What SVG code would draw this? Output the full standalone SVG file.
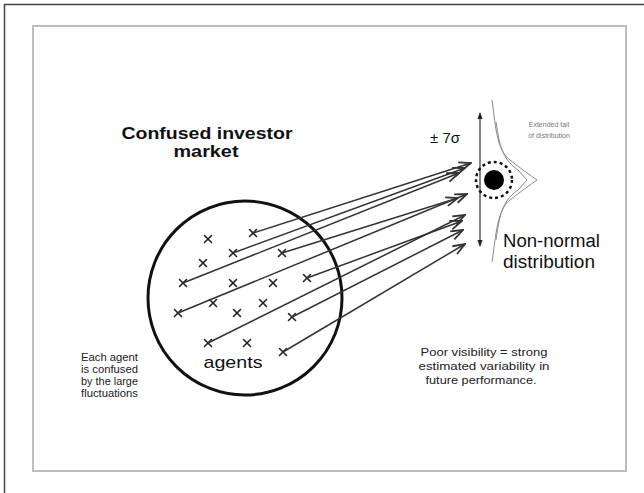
<svg xmlns="http://www.w3.org/2000/svg" width="644" height="493" viewBox="0 0 644 493">
  <defs>
    <style>
      .frame { fill: none; stroke: #444; stroke-width: 1.5; }
      .panel { fill: #fff; stroke: #bdbdbd; stroke-width: 2; }
      .market { fill: none; stroke: #111; stroke-width: 3; }
      .agent { stroke: #222; stroke-width: 1.6; stroke-linecap: round; }
      .flow { stroke: #333; stroke-width: 1.5; fill: none; marker-end: url(#openHead); }
      .span { stroke: #333; stroke-width: 1.2; marker-start: url(#solidHead); marker-end: url(#solidHead); }
      .dist { fill: none; stroke: #8a8a8a; stroke-width: 1; }
      .sans { font-family: "Liberation Sans", Arial, sans-serif; fill: #111; }
      .title { font-size: 17px; font-weight: bold; }
      .big { font-size: 17px; }
      .note { font-size: 10px; fill: #222; }
      .tiny { font-size: 7px; fill: #777; }
    </style>
    <marker id="openHead" viewBox="0 0 14 12" refX="13" refY="6" markerWidth="14" markerHeight="12" markerUnits="userSpaceOnUse" orient="auto">
      <path d="M1,1.5 L13,6 L1,10.5" fill="none" stroke="#333" stroke-width="1.8"/>
    </marker>
    <marker id="solidHead" viewBox="0 0 8 8" refX="7" refY="4" markerWidth="7" markerHeight="7" markerUnits="userSpaceOnUse" orient="auto-start-reverse">
      <path d="M0,1 L8,4 L0,7 Z" fill="#222"/>
    </marker>
    <g id="x">
      <line class="agent" x1="-3.5" y1="-3.5" x2="3.5" y2="3.5"/>
      <line class="agent" x1="-3.5" y1="3.5" x2="3.5" y2="-3.5"/>
    </g>
  </defs>

  <rect width="644" height="493" fill="#fff"/>
  <path class="frame" d="M4.5,493 V4.5 H644"/>
  <rect class="panel" x="33" y="26" width="593" height="445"/>

  <!-- market of agents -->
  <g id="market">
    <circle class="market" cx="245" cy="298" r="97"/>
    <text class="sans title" x="207" y="139" text-anchor="middle" textLength="171" lengthAdjust="spacingAndGlyphs">Confused investor</text>
    <text class="sans title" x="206" y="157" text-anchor="middle" textLength="65" lengthAdjust="spacingAndGlyphs">market</text>
    <text class="sans big" x="233" y="368" text-anchor="middle" textLength="59" lengthAdjust="spacingAndGlyphs">agents</text>
  </g>

  <g id="agents">
    <use href="#x" x="208" y="239"/>
    <use href="#x" x="253" y="233"/>
    <use href="#x" x="233" y="253"/>
    <use href="#x" x="203" y="263"/>
    <use href="#x" x="282" y="253"/>
    <use href="#x" x="183" y="283"/>
    <use href="#x" x="233" y="283"/>
    <use href="#x" x="273" y="283"/>
    <use href="#x" x="307" y="278"/>
    <use href="#x" x="178" y="313"/>
    <use href="#x" x="213" y="303"/>
    <use href="#x" x="237" y="313"/>
    <use href="#x" x="263" y="303"/>
    <use href="#x" x="292" y="317"/>
    <use href="#x" x="208" y="343"/>
    <use href="#x" x="247" y="343"/>
    <use href="#x" x="283" y="352"/>
  </g>

  <!-- connectors from agents to the distribution -->
  <g id="connectors">
    <line class="flow" x1="253" y1="233" x2="471" y2="163"/>
    <line class="flow" x1="233" y1="253" x2="465" y2="168"/>
    <line class="flow" x1="183" y1="283" x2="459" y2="173"/>
    <line class="flow" x1="178" y1="313" x2="467" y2="194"/>
    <line class="flow" x1="282" y1="253" x2="458" y2="198"/>
    <line class="flow" x1="208" y1="343" x2="465" y2="215"/>
    <line class="flow" x1="307" y1="278" x2="462" y2="221"/>
    <line class="flow" x1="292" y1="317" x2="463" y2="230"/>
    <line class="flow" x1="283" y1="352" x2="465" y2="244"/>
  </g>

  <!-- return distribution -->
  <g id="distribution">
    <line class="span" x1="480" y1="113" x2="480" y2="246"/>
    <text class="sans" x="430" y="143" font-size="15">± 7σ</text>
    <path class="dist" d="M492,100 C496,130 497,150 510,160 C520,168 530,175 537,180 C530,185 520,192 510,200 C497,210 496,235 492,262"/>
    <path class="dist" d="M496,122 C500,150 504,160 518,170 L527,180 L518,190 C504,200 500,210 496,240"/>
    <circle cx="494" cy="180" r="18" fill="none" stroke="#111" stroke-width="2.5" stroke-dasharray="3 3"/>
    <circle cx="494" cy="180" r="10" fill="#000"/>
    <text class="sans tiny" x="549" y="127" text-anchor="middle">Extended tail</text>
    <text class="sans tiny" x="549" y="138" text-anchor="middle">of distribution</text>
    <text class="sans" x="503" y="247" font-size="18" textLength="97" lengthAdjust="spacingAndGlyphs">Non-normal</text>
    <text class="sans" x="503" y="268" font-size="18" textLength="92" lengthAdjust="spacingAndGlyphs">distribution</text>
  </g>

  <!-- notes -->
  <g id="agent-note">
    <text class="sans note" x="81" y="361" textLength="57" lengthAdjust="spacingAndGlyphs">Each agent</text>
    <text class="sans note" x="81" y="373" textLength="57" lengthAdjust="spacingAndGlyphs">is confused</text>
    <text class="sans note" x="81" y="385" textLength="57" lengthAdjust="spacingAndGlyphs">by the large</text>
    <text class="sans note" x="81" y="397" textLength="57" lengthAdjust="spacingAndGlyphs">fluctuations</text>
  </g>
  <g id="visibility-note">
    <text class="sans note" x="484" y="356" text-anchor="middle" textLength="127" lengthAdjust="spacingAndGlyphs">Poor visibility = strong</text>
    <text class="sans note" x="484" y="370" text-anchor="middle" textLength="131" lengthAdjust="spacingAndGlyphs">estimated variability in</text>
    <text class="sans note" x="481" y="384" text-anchor="middle" textLength="111" lengthAdjust="spacingAndGlyphs">future performance.</text>
  </g>
</svg>
